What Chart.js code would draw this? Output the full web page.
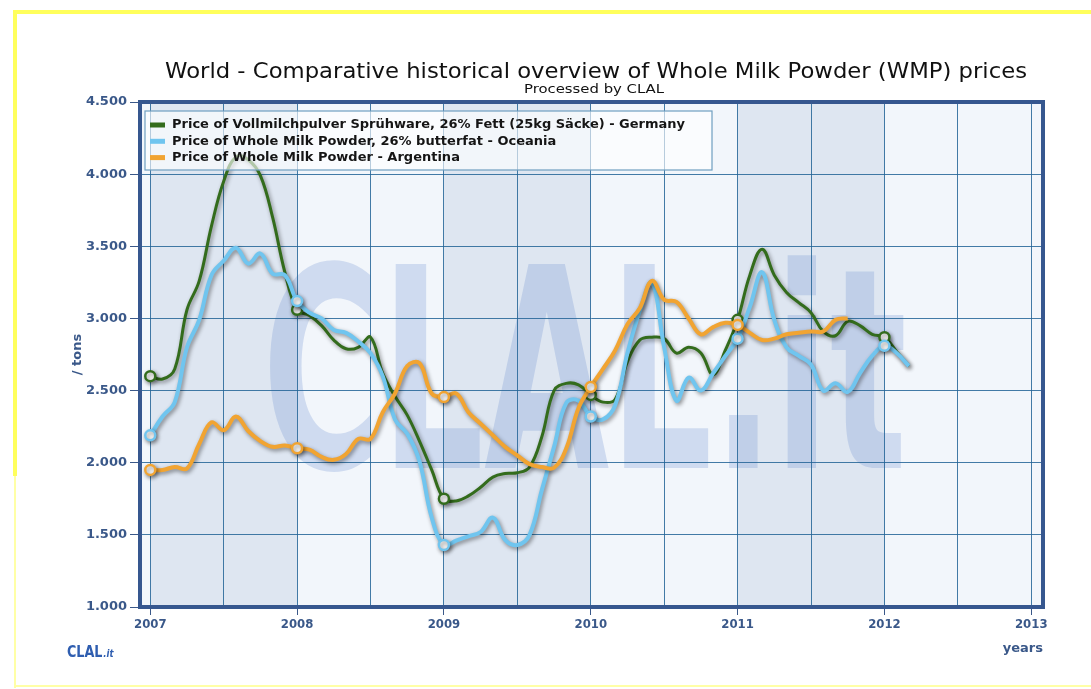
<!doctype html>
<html lang="en">
<head>
<meta charset="utf-8">
<title>World - WMP prices</title>
<script src="https://cdn.jsdelivr.net/npm/chart.js"></script>
<style>
  html, body { margin: 0; padding: 0; background: #fff; }
  #wrap { width: 1091px; height: 689px; }
</style>
</head>
<body>
<div id="wrap"><canvas id="wmpChart" width="1091" height="689"></canvas></div>
<script>
// monthly prices (per ton), starting January 2007
const startYear = 2007;
const yearTicks = [2007, 2008, 2009, 2010, 2011, 2012, 2013];
const valueTicks = [1000, 1500, 2000, 2500, 3000, 3500, 4000, 4500];

const germany = [
  2600, 2580, 2650, 3060, 3260, 3640, 3950, 4120, 4100, 3990, 3700, 3320,
  3060, 3020, 2950, 2850, 2790, 2800, 2870, 2620, 2460, 2330, 2150, 1950,
  1750, 1735, 1770, 1830, 1900, 1925, 1930, 1970, 2180, 2500, 2550, 2540,
  2470, 2420, 2440, 2700, 2850, 2870, 2860, 2760, 2800, 2760, 2610, 2780,
  2990, 3300, 3480, 3300, 3180, 3110, 3040, 2910, 2880, 2980, 2950, 2890,
  2870, 2770, 2670
];
const oceania = [
  2190, 2320, 2420, 2800, 2990, 3300, 3400, 3490, 3380, 3450, 3310, 3300,
  3120, 3040, 3000, 2920, 2900, 2840, 2760, 2600, 2300, 2200, 2010, 1620,
  1430, 1460, 1490, 1520, 1620, 1465, 1430, 1500, 1810, 2110, 2415, 2430,
  2320, 2300, 2400, 2760, 3050, 3250, 2800, 2430, 2590, 2500, 2620, 2740,
  2860, 3080, 3320, 2990, 2800, 2740, 2680, 2500, 2550, 2490, 2620, 2740,
  2810, 2760, 2670
];
const argentina = [
  1950, 1950, 1970, 1960, 2130, 2280, 2225, 2320, 2220, 2150, 2110, 2120,
  2100, 2090, 2040, 2020, 2060, 2165, 2165, 2350, 2480, 2670, 2690, 2480,
  2455, 2480, 2350, 2270, 2190, 2110, 2050, 1990, 1970, 1965, 2100, 2380,
  2525, 2650, 2780, 2960, 3070, 3260, 3130, 3115, 3000, 2890, 2940, 2970,
  2955, 2900, 2850, 2860, 2890, 2900, 2910, 2910, 2990, 3000
];

const seriesNames = [
  'Price of Vollmilchpulver Sprühware, 26% Fett (25kg Säcke) - Germany',
  'Price of Whole Milk Powder, 26% butterfat - Oceania',
  'Price of Whole Milk Powder - Argentina'
];
const seriesColors = ['#336c1c', '#70c5ef', '#f1a432'];

const axisBlue = '#3a5889';
const gridBlue = 'rgba(35,100,150,0.85)';
const fontFam = "'DejaVu Sans', Verdana, sans-serif";

function toPoints(values) {
  return values.map((v, i) => ({ x: startYear + i / 12, y: v }));
}

function fmtThousands(v) {
  return String(v).replace(/\B(?=(\d{3})+(?!\d))/g, '.');
}

// draw text centred at cx, stretched to a given width
function fitText(ctx, text, cx, y, width) {
  const w = ctx.measureText(text).width;
  ctx.save();
  ctx.translate(cx, y);
  ctx.scale(width / w, 1);
  ctx.fillText(text, 0, 0);
  ctx.restore();
}

// background, bands, watermark, yellow frame
const backdrop = {
  id: 'backdrop',
  beforeDraw(chart) {
    const { ctx, chartArea: a, scales: { x } } = chart;
    ctx.save();
    ctx.fillStyle = '#fff';
    ctx.fillRect(0, 0, chart.width, chart.height);

    // yellow page frame
    ctx.fillStyle = '#ffff5c';
    ctx.fillRect(13, 10, 1078, 4);
    ctx.fillRect(13, 10, 4, 466);
    ctx.fillStyle = '#ffffa6';
    ctx.fillRect(14, 476, 2, 212);
    ctx.fillRect(14, 685, 1077, 2);

    ctx.fillStyle = '#f2f6fb';
    ctx.fillRect(a.left, a.top, a.width, a.height);
    ctx.fillStyle = '#dee6f1';
    for (let i = 0; i < yearTicks.length - 1; i += 2) {
      const x0 = Math.max(a.left, x.getPixelForValue(yearTicks[i]));
      const x1 = Math.min(a.right, x.getPixelForValue(yearTicks[i + 1]));
      ctx.fillRect(x0, a.top, x1 - x0, a.height);
    }

    // CLAL.it watermark
    ctx.beginPath();
    ctx.rect(a.left, a.top, a.width, a.height);
    ctx.clip();
    ctx.font = 'bold 280px ' + fontFam;
    ctx.fillStyle = 'rgba(95,135,205,0.24)';
    const w = ctx.measureText('CLAL.it').width;
    ctx.translate(262, 468);
    ctx.scale(645 / w, 1);
    ctx.fillText('CLAL.it', 0, 0);
    ctx.restore();
  },
  afterDraw(chart) {
    const { ctx, chartArea: a } = chart;
    ctx.save();
    ctx.strokeStyle = '#36578f';
    ctx.lineWidth = 4;
    ctx.strokeRect(a.left, a.top, a.width, a.height);

    ctx.fillStyle = '#111';
    ctx.textAlign = 'center';
    ctx.textBaseline = 'alphabetic';
    ctx.font = '21px ' + fontFam;
    fitText(ctx, 'World - Comparative historical overview of Whole Milk Powder (WMP) prices', 596, 78, 862);
    ctx.font = '12px ' + fontFam;
    fitText(ctx, 'Processed by CLAL', 594, 93, 140);

    // small logo bottom left
    ctx.textAlign = 'left';
    ctx.fillStyle = '#2f5eb0';
    ctx.font = 'bold 15px ' + fontFam;
    ctx.save();
    ctx.translate(67, 657);
    ctx.scale(0.85, 1);
    ctx.fillText('CLAL', 0, 0);
    const lw = ctx.measureText('CLAL').width;
    ctx.font = 'italic bold 10px ' + fontFam;
    ctx.fillText('.it', lw + 1, 0);
    ctx.restore();
    ctx.restore();
  }
};

// drop shadow under every line
const lineShadow = {
  id: 'lineShadow',
  beforeDatasetDraw(chart) {
    const ctx = chart.ctx;
    ctx.save();
    ctx.shadowColor = 'rgba(0,0,0,0.45)';
    ctx.shadowBlur = 4;
    ctx.shadowOffsetX = 1.5;
    ctx.shadowOffsetY = 2;
  },
  afterDatasetDraw(chart) {
    chart.ctx.restore();
  }
};

// legend box inside the plot
const legendBox = {
  id: 'legendBox',
  afterDatasetsDraw(chart) {
    const { ctx, chartArea: a } = chart;
    const bx = a.left + 5, by = a.top + 9;
    ctx.save();
    ctx.fillStyle = 'rgba(255,255,255,0.62)';
    ctx.fillRect(bx, by, 567, 59);
    ctx.strokeStyle = '#6f9fc0';
    ctx.lineWidth = 1.2;
    ctx.strokeRect(bx, by, 567, 59);
    ctx.font = 'bold 13px ' + fontFam;
    ctx.textBaseline = 'middle';
    chart.data.datasets.forEach((ds, i) => {
      const cy = a.top + 23 + i * 16.3;
      ctx.fillStyle = ds.borderColor;
      ctx.fillRect(bx + 5, cy - 2.5, 15, 5);
      ctx.fillStyle = '#151515';
      ctx.fillText(ds.label, bx + 27, cy);
    });
    ctx.restore();
  }
};

const halfYears = [];
yearTicks.forEach((y, i) => {
  halfYears.push(y);
  if (i < yearTicks.length - 1) halfYears.push(y + 0.5);
});

function lineDataset(idx, values, width, order) {
  return {
    label: seriesNames[idx],
    data: toPoints(values),
    borderColor: seriesColors[idx],
    backgroundColor: seriesColors[idx],
    borderWidth: width,
    tension: 0.4,
    order: order,
    pointRadius: c => (c.dataIndex % 12 === 0 ? 5 : 0),
    pointBackgroundColor: '#ffffff',
    pointBorderColor: seriesColors[idx],
    pointBorderWidth: 2.5
  };
}

new Chart(document.getElementById('wmpChart').getContext('2d'), {
  type: 'line',
  data: {
    datasets: [
      lineDataset(0, germany, 3, 3),
      lineDataset(1, oceania, 4, 2),
      lineDataset(2, argentina, 4, 1)
    ]
  },
  options: {
    responsive: false,
    animation: false,
    events: [],
    layout: { padding: { top: 102, right: 48, bottom: 0, left: 0 } },
    plugins: {
      legend: { display: false },
      title: { display: false },
      tooltip: { enabled: false }
    },
    scales: {
      x: {
        type: 'linear',
        min: 2006.93,
        max: 2013.08,
        afterBuildTicks: s => { s.ticks = halfYears.map(v => ({ value: v })); },
        afterFit: s => { s.height = 82; },
        border: { display: false },
        grid: {
          color: gridBlue,
          lineWidth: 1,
          tickLength: 8,
          tickColor: c => (Number.isInteger(c.tick.value) ? axisBlue : 'rgba(0,0,0,0)')
        },
        ticks: {
          autoSkip: false,
          maxRotation: 0,
          padding: 2,
          color: axisBlue,
          font: { family: "'DejaVu Sans Condensed', 'DejaVu Sans', sans-serif", size: 13, weight: 'bold' },
          callback: v => (Number.isInteger(v) ? String(v) : '')
        },
        title: {
          display: true,
          text: 'years',
          align: 'end',
          color: axisBlue,
          padding: { top: 0, bottom: 33 },
          font: { family: fontFam, size: 13, weight: 'bold' }
        }
      },
      y: {
        min: valueTicks[0],
        max: valueTicks[valueTicks.length - 1],
        afterBuildTicks: s => { s.ticks = valueTicks.map(v => ({ value: v })); },
        afterFit: s => { s.width = 140; },
        border: { display: false },
        grid: {
          color: gridBlue,
          lineWidth: 1,
          tickLength: 10,
          tickColor: axisBlue
        },
        ticks: {
          padding: 3,
          color: axisBlue,
          font: { family: fontFam, size: 13, weight: 'bold' },
          callback: v => fmtThousands(v)
        },
        title: {
          display: true,
          text: '/ tons',
          color: axisBlue,
          padding: { top: 70, bottom: 0 },
          font: { family: fontFam, size: 13, weight: 'bold' }
        }
      }
    }
  },
  plugins: [backdrop, lineShadow, legendBox]
});
</script>
</body>
</html>
